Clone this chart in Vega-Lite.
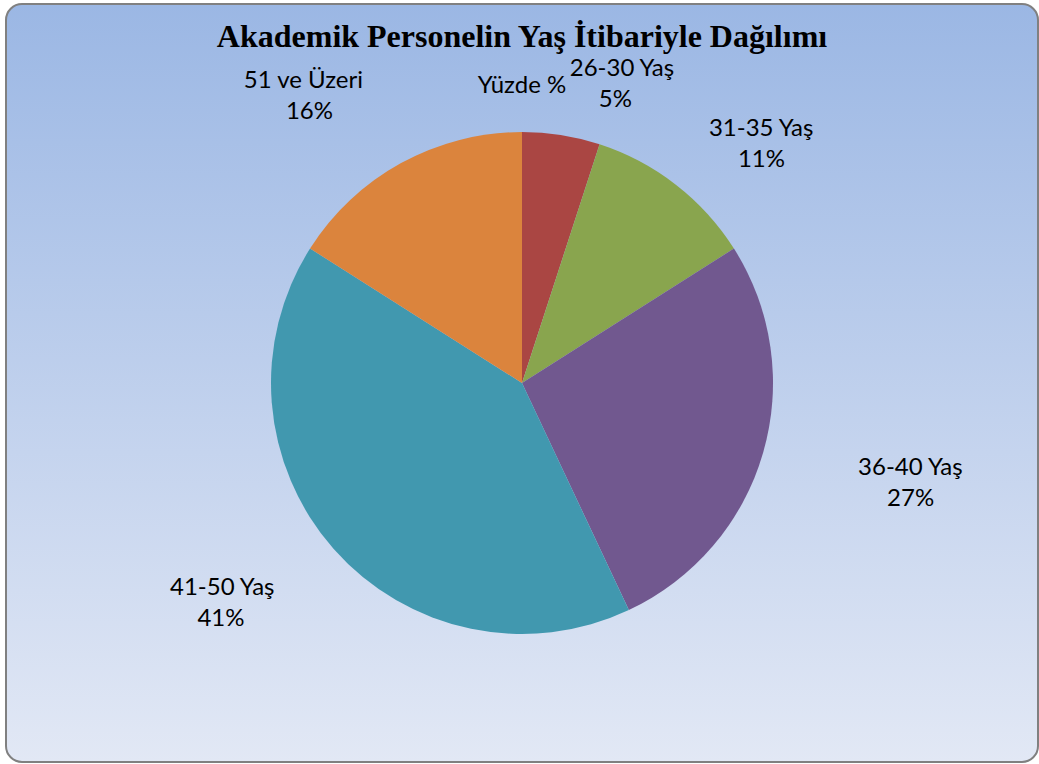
{
  "$schema": "https://vega.github.io/schema/vega-lite/v6.json",
  "width": 1039,
  "height": 764,
  "autosize": {"type": "fit", "contains": "padding"},
  "padding": {"left": 5, "top": 3, "right": 0, "bottom": 1},
  "background": "white",
  "config": {"view": {"stroke": null}},
  "title": {
    "text": "Akademik Personelin Yaş İtibariyle Dağılımı",
    "subtitle": "Yüzde %",
    "frame": "group",
    "anchor": "middle",
    "orient": "top",
    "offset": -96,
    "font": "Liberation Serif",
    "fontSize": 32,
    "fontWeight": "bold",
    "color": "#000000",
    "subtitleFont": "Lato",
    "subtitleFontSize": 24,
    "subtitleColor": "#000000",
    "subtitlePadding": 20
  },
  "data": {
    "values": [
      {"grup": "26-30 Yaş", "yuzde": 0.05},
      {"grup": "31-35 Yaş", "yuzde": 0.11},
      {"grup": "36-40 Yaş", "yuzde": 0.27},
      {"grup": "41-50 Yaş", "yuzde": 0.41},
      {"grup": "51  ve Üzeri", "yuzde": 0.16}
    ]
  },
  "layer": [
    {
      "data": {"values": [{"bg": 1}]},
      "mark": {
        "type": "rect",
        "cornerRadius": 16,
        "stroke": "#808080",
        "strokeWidth": 2,
        "fill": {
          "x1": 0, "y1": 0, "x2": 0, "y2": 1,
          "gradient": "linear",
          "stops": [
            {"offset": 0, "color": "#9bb7e4"},
            {"offset": 1, "color": "#e2e8f5"}
          ]
        }
      },
      "encoding": {}
    },
    {
      "mark": {"type": "arc", "outerRadius": 251, "stroke": null},
      "encoding": {
        "theta": {"field": "yuzde", "type": "quantitative", "stack": true},
        "order": {"field": "grup", "type": "nominal", "sort": "ascending"},
        "color": {
          "field": "grup",
          "type": "nominal",
          "scale": {
            "domain": ["26-30 Yaş", "31-35 Yaş", "36-40 Yaş", "41-50 Yaş", "51  ve Üzeri"],
            "range": ["#AA4643", "#89A54E", "#71588F", "#4198AF", "#DB843D"]
          },
          "legend": null
        }
      }
    },
    {
      "mark": {"type": "text", "radius": 305, "align": "left", "baseline": "bottom", "dy": -1, "font": "Lato", "fontSize": 24, "color": "#000000"},
      "encoding": {
        "theta": {"field": "yuzde", "type": "quantitative", "stack": true},
        "order": {"field": "grup", "type": "nominal", "sort": "ascending"},
        "text": {"field": "grup"},
        "opacity": {"condition": {"test": "indexof(['26-30 Yaş','31-35 Yaş'], datum.grup) >= 0", "value": 1}, "value": 0}
      }
    },
    {
      "mark": {"type": "text", "radius": 305, "align": "left", "baseline": "top", "dy": 6, "dx": 29, "font": "Lato", "fontSize": 24, "color": "#000000"},
      "encoding": {
        "theta": {"field": "yuzde", "type": "quantitative", "stack": true},
        "order": {"field": "grup", "type": "nominal", "sort": "ascending"},
        "detail": {"field": "grup"},
        "text": {"field": "yuzde", "format": ".0%"},
        "opacity": {"condition": {"test": "indexof(['26-30 Yaş','31-35 Yaş'], datum.grup) >= 0", "value": 1}, "value": 0}
      }
    },
    {
      "mark": {"type": "text", "radius": 350, "align": "left", "baseline": "bottom", "dy": -1, "font": "Lato", "fontSize": 24, "color": "#000000"},
      "encoding": {
        "theta": {"field": "yuzde", "type": "quantitative", "stack": true},
        "order": {"field": "grup", "type": "nominal", "sort": "ascending"},
        "text": {"field": "grup"},
        "opacity": {"condition": {"test": "datum.grup === '36-40 Yaş'", "value": 1}, "value": 0}
      }
    },
    {
      "mark": {"type": "text", "radius": 350, "align": "left", "baseline": "top", "dy": 6, "dx": 29, "font": "Lato", "fontSize": 24, "color": "#000000"},
      "encoding": {
        "theta": {"field": "yuzde", "type": "quantitative", "stack": true},
        "order": {"field": "grup", "type": "nominal", "sort": "ascending"},
        "detail": {"field": "grup"},
        "text": {"field": "yuzde", "format": ".0%"},
        "opacity": {"condition": {"test": "datum.grup === '36-40 Yaş'", "value": 1}, "value": 0}
      }
    },
    {
      "mark": {"type": "text", "radius": 330, "align": "right", "baseline": "bottom", "dy": -1, "font": "Lato", "fontSize": 24, "color": "#000000"},
      "encoding": {
        "theta": {"field": "yuzde", "type": "quantitative", "stack": true},
        "order": {"field": "grup", "type": "nominal", "sort": "ascending"},
        "text": {"field": "grup"},
        "opacity": {"condition": {"test": "indexof(['41-50 Yaş','51  ve Üzeri'], datum.grup) >= 0", "value": 1}, "value": 0}
      }
    },
    {
      "mark": {"type": "text", "radius": 330, "align": "right", "baseline": "top", "dy": 6, "dx": -30, "font": "Lato", "fontSize": 24, "color": "#000000"},
      "encoding": {
        "theta": {"field": "yuzde", "type": "quantitative", "stack": true},
        "order": {"field": "grup", "type": "nominal", "sort": "ascending"},
        "detail": {"field": "grup"},
        "text": {"field": "yuzde", "format": ".0%"},
        "opacity": {"condition": {"test": "indexof(['41-50 Yaş','51  ve Üzeri'], datum.grup) >= 0", "value": 1}, "value": 0}
      }
    }
  ]
}
